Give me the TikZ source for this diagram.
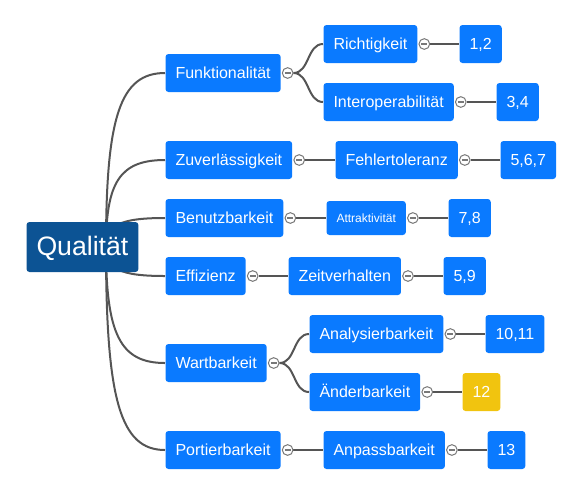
\documentclass[tikz,border=0pt]{standalone}
\usepackage{fontspec}
\setmainfont{Liberation Sans}
\usetikzlibrary{positioning,backgrounds}

\definecolor{qblue}{RGB}{10,122,255}
\definecolor{qdark}{RGB}{12,83,148}
\definecolor{qyellow}{RGB}{241,196,15}
\definecolor{qline}{RGB}{85,85,85}
\definecolor{qfold}{RGB}{120,120,120}

\tikzset{every picture/.style={line width=0.75pt}}
\tikzset{
  topic/.style={fill=qblue, text=white, rounded corners=2.25pt, anchor=west, inner xsep=7.5pt, inner ysep=0pt, minimum height=28.5pt, text height=9pt, text depth=1.5pt, font=\fontsize{12}{14}\selectfont},
  central/.style={topic, fill=qdark, minimum height=37.5pt, inner xsep=7.5pt, text height=14.5pt, text depth=2pt, font=\fontsize{20}{23}\selectfont},
  minor/.style={topic, minimum height=25.5pt, text height=7pt, text depth=1pt, font=\fontsize{9}{11}\selectfont},
  marked/.style={topic, fill=qyellow},
  fold/.style={circle, draw=qfold, fill=white, minimum size=8pt, inner sep=0pt, path picture={\draw[qfold, line width=1pt] ([xshift=1.8pt]path picture bounding box.west) -- ([xshift=-1.8pt]path picture bounding box.east);}},
  branch/.style={draw=qline, line width=1.5pt},
}

\begin{document}
\begin{tikzpicture}[x=0.75pt,y=0.75pt,yscale=-1,xscale=1]
\useasboundingbox (0,0) rectangle (581,494);

% root
\node[central] (root) at (26,247) {Qualität};
\coordinate (hub) at (106,247);

% first level
\node[topic] (funk) at (165,73) {Funktionalität};
\node[topic] (zuver) at (165,160) {Zuverlässigkeit};
\node[topic] (benutz) at (165,218) {Benutzbarkeit};
\node[topic] (eff) at (165,276) {Effizienz};
\node[topic] (wart) at (165,363) {Wartbarkeit};
\node[topic] (port) at (165,450) {Portierbarkeit};

% second level
\node[topic] (richt) at (323,44) {Richtigkeit};
\node[topic] (interop) at (323,102) {Interoperabilität};
\node[topic] (fehler) at (335,160) {Fehlertoleranz};
\node[minor] (attr) at (326,218) {Attraktivität};
\node[topic] (zeit) at (288,276) {Zeitverhalten};
\node[topic] (analys) at (309,334) {Analysierbarkeit};
\node[topic] (aender) at (309,392) {Änderbarkeit};
\node[topic] (anpass) at (323,450) {Anpassbarkeit};

% third level
\node[topic] (v12) at (459,44) {1,2};
\node[topic] (v34) at (496,102) {3,4};
\node[topic] (v567) at (500,160) {5,6,7};
\node[topic] (v78) at (448,218) {7,8};
\node[topic] (v59) at (443,276) {5,9};
\node[topic] (v1011) at (485,334) {10,11};
\node[marked] (v12b) at (462,392) {12};
\node[topic] (v13) at (487,450) {13};

% fold markers
\foreach \n in {funk,zuver,benutz,eff,wart,port,richt,interop,fehler,attr,zeit,analys,aender,anpass}
  \node[fold, right=0.5pt of \n] (\n-f) {};

% connectors
\begin{scope}[on background layer]
\foreach \n/\d in {funk/-130, zuver/-65, benutz/-22, eff/22, wart/87, port/152}
  \draw[branch] (hub) .. controls +(0,\d) and +(-45,0) .. (\n.west);
\foreach \a/\b in {funk/richt, funk/interop, wart/analys, wart/aender}
  \draw[branch] (\a-f.east) .. controls +(16,0) and +(-16,0) .. (\b.west);
\foreach \a/\b in {zuver/fehler, benutz/attr, eff/zeit, port/anpass, richt/v12, interop/v34, fehler/v567, attr/v78, zeit/v59, analys/v1011, aender/v12b, anpass/v13}
  \draw[branch] (\a-f.east) -- (\b.west);
\end{scope}

\end{tikzpicture}
\end{document}
